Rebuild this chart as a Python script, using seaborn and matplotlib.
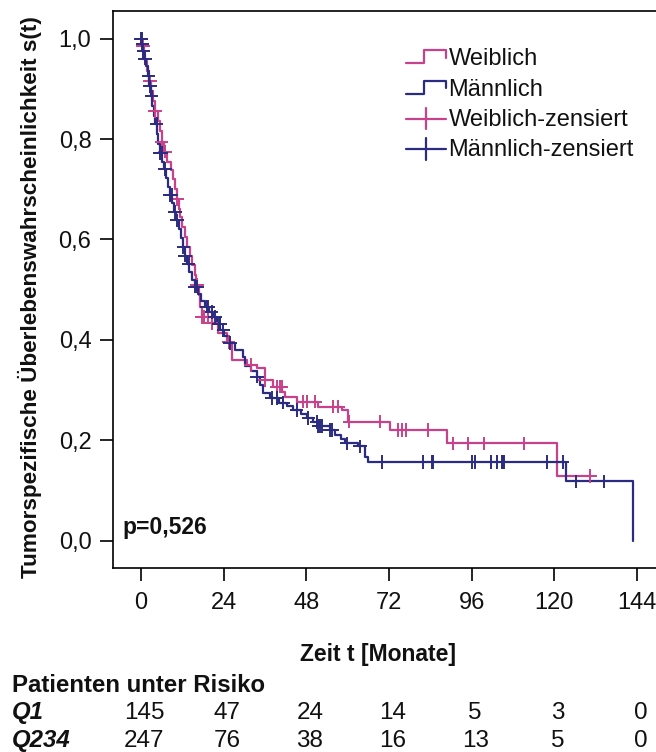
import numpy as np
import pandas as pd
import matplotlib
matplotlib.use("Agg")
import matplotlib.pyplot as plt
import matplotlib.transforms as mtransforms
import seaborn as sns
from matplotlib.lines import Line2D
from matplotlib.legend_handler import HandlerBase
from matplotlib.ticker import FuncFormatter

# ---------------- data ----------------
group_names = ["Weiblich", "Männlich"]
censor_names = ["Weiblich-zensiert", "Männlich-zensiert"]

# Weiblich: event times (months) and survival after each step
w_times = [0.4, 0.8, 1.3, 1.8, 2.4, 3.0, 3.5, 4.1, 4.8, 5.4, 6.0, 6.8, 7.6, 8.6,
           9.3, 9.8, 10.4, 10.9, 11.4, 12.0, 12.7, 13.4, 14.2, 14.8, 15.6, 16.1,
           16.7, 17.1, 17.6, 20.5, 22.4, 24.9, 26.3, 30.7, 33.6, 36.0, 38.4, 40.9,
           41.8, 45.2, 51.5, 58.3, 60.2, 72.3, 88.8, 120.7]
w_surv = [0.985, 0.970, 0.955, 0.935, 0.915, 0.895, 0.875, 0.855, 0.835, 0.815,
          0.795, 0.775, 0.755, 0.738, 0.720, 0.700, 0.680, 0.660, 0.645, 0.625,
          0.605, 0.585, 0.568, 0.550, 0.530, 0.510, 0.490, 0.465, 0.446, 0.433,
          0.413, 0.396, 0.360, 0.350, 0.343, 0.320, 0.307, 0.297, 0.287, 0.277,
          0.267, 0.260, 0.237, 0.220, 0.194, 0.129]
w_censored = [0.5, 0.7, 2.6, 4.1, 6.0, 7.0, 10.4, 16.2, 17.6, 18.2, 19.5, 20.5,
              25.4, 31.9, 36.0, 39.4, 40.4, 40.8, 46.9, 48.1, 50.5, 55.8, 57.3,
              60.5, 69.4, 74.7, 75.7, 76.9, 83.4, 90.6, 94.8, 99.5, 111.1, 130.4]

# Männlich
m_times = [0.3, 0.6, 1.0, 1.4, 1.9, 2.3, 2.8, 3.2, 3.7, 4.2, 4.6, 5.0, 5.5, 6.1,
           6.6, 7.2, 7.8, 8.4, 9.0, 9.7, 10.3, 10.9, 11.6, 12.2, 12.8, 13.4, 14.0,
           14.8, 15.7, 16.6, 17.5, 18.6, 19.8, 21.0, 22.0, 23.0, 24.2, 25.5, 27.3,
           29.5, 30.2, 32.0, 33.6, 34.6, 35.5, 37.5, 40.0, 42.5, 44.2, 46.5, 48.1,
           50.0, 51.5, 54.9, 56.3, 58.0, 59.2, 63.1, 65.0, 66.0, 123.4, 142.8]
m_surv = [0.990, 0.975, 0.960, 0.945, 0.925, 0.905, 0.885, 0.865, 0.845, 0.830,
          0.810, 0.790, 0.772, 0.755, 0.740, 0.722, 0.705, 0.688, 0.672, 0.655,
          0.638, 0.620, 0.602, 0.585, 0.568, 0.552, 0.536, 0.520, 0.506, 0.492,
          0.478, 0.466, 0.455, 0.445, 0.432, 0.420, 0.408, 0.394, 0.380, 0.365,
          0.348, 0.337, 0.327, 0.310, 0.295, 0.284, 0.275, 0.268, 0.260, 0.252,
          0.244, 0.236, 0.228, 0.220, 0.210, 0.202, 0.194, 0.188, 0.167, 0.157,
          0.118, 0.0]
m_censored = [0.0, 0.2, 0.4, 0.7, 1.2, 2.2, 2.6, 3.1, 4.5, 5.5, 6.0, 7.0, 8.4, 8.9,
              9.9, 10.4, 12.3, 12.8, 13.8, 15.7, 16.2, 19.1, 19.5, 20.5, 21.5, 22.5,
              22.9, 23.9, 25.8, 33.6, 37.9, 39.4, 41.3, 45.2, 48.6, 51.0, 51.5, 52.0,
              52.4, 54.9, 55.4, 59.7, 63.6, 70.0, 81.8, 84.5, 84.8, 96.0, 97.1,
              101.7, 103.3, 104.8, 105.2, 105.5, 118.0, 122.4, 126.4, 134.4]

x_ticks = [0, 24, 48, 72, 96, 120, 144]
y_ticks = [0.0, 0.2, 0.4, 0.6, 0.8, 1.0]
risk_labels = ["Q1", "Q234"]
risk_q1 = [145, 47, 24, 14, 5, 3, 0]
risk_q234 = [247, 76, 38, 16, 13, 5, 0]
p_text = "p=0,526"

colors = {"Weiblich": "#C8418A", "Männlich": "#2B2B82"}

# ---------------- build tables ----------------
def step_frame(name, times, surv, cens):
    t = [0.0] + list(times)
    s = [1.0] + list(surv)
    end = max(max(cens), t[-1])
    if end > t[-1]:
        t.append(end)
        s.append(s[-1])
    return pd.DataFrame({"t": t, "s": s, "group": name})

def censor_frame(name, steps, cens):
    ts = steps["t"].to_numpy()
    ss = steps["s"].to_numpy()
    idx = np.searchsorted(ts, np.array(cens), side="right") - 1
    return pd.DataFrame({"t": cens, "s": ss[idx], "group": name})

w_steps = step_frame("Weiblich", w_times, w_surv, w_censored)
m_steps = step_frame("Männlich", m_times, m_surv, m_censored)
steps = pd.concat([w_steps, m_steps], ignore_index=True)
cens = pd.concat([censor_frame("Weiblich", w_steps, w_censored),
                  censor_frame("Männlich", m_steps, m_censored)], ignore_index=True)

# ---------------- figure ----------------
sns.set_theme(style="ticks")
plt.rcParams['font.family'] = ['Liberation Sans', 'DejaVu Sans']

W, H = 656, 752
fig = plt.figure(figsize=(W / 100, H / 100), dpi=100)
ax = fig.add_axes([113 / W, 1 - 568 / H, (W - 113) / W, (568 - 11) / H])

lw = 1.6
sns.lineplot(data=steps, x="t", y="s", hue="group", palette=colors,
             estimator=None, sort=False, drawstyle="steps-post",
             linewidth=lw, legend=False, ax=ax)
sns.scatterplot(data=cens, x="t", y="s", hue="group", palette=colors,
                marker="+", s=95, linewidth=1.4, legend=False, ax=ax, zorder=3)

ax.set_xlim(-8.13, 149.5)
ax.set_ylim(-0.0544, 1.055)
ax.set_xticks(x_ticks)
ax.set_yticks(y_ticks)
ax.yaxis.set_major_formatter(FuncFormatter(lambda v, p: f"{v:.1f}".replace(".", ",")))
ax.tick_params(axis="both", labelsize=17, length=9.5, width=1.2, color="black",
               labelcolor="#111111", direction="out")
ax.tick_params(axis="y", pad=6)
ax.tick_params(axis="x", pad=8)
for side in ["left", "bottom", "top"]:
    ax.spines[side].set_linewidth(1.2)
    ax.spines[side].set_color("black")
ax.spines["right"].set_visible(False)
ax.set_xlabel("")
ax.set_ylabel("")

ax.text(0.0166, 0.0736, p_text, transform=ax.transAxes, fontsize=16.5,
        fontweight="bold", ha="left", va="center", color="#111111")

# legend with custom handles
class StepHandler(HandlerBase):
    def create_artists(self, legend, orig_handle, xdescent, ydescent, width,
                       height, fontsize, trans):
        xs = np.array([0, 0.45, 0.45, 1.0, 1.0]) * width - xdescent
        ys = np.array([0.1, 0.1, 0.9, 0.9, 0.45]) * height - ydescent
        return [Line2D(xs, ys, color=orig_handle.get_color(), lw=lw, transform=trans)]

class CrossHandler(HandlerBase):
    def create_artists(self, legend, orig_handle, xdescent, ydescent, width,
                       height, fontsize, trans):
        c = orig_handle.get_color()
        h = Line2D([-xdescent, width - xdescent], [0.45 * height - ydescent] * 2,
                   color=c, lw=lw, transform=trans)
        v = Line2D([0.5 * width - xdescent] * 2,
                   [-0.2 * height - ydescent, 1.1 * height - ydescent],
                   color=c, lw=lw, transform=trans)
        return [h, v]

handles = [Line2D([], [], color=colors[g]) for g in group_names] + \
          [Line2D([], [], color=colors[g]) for g in group_names]
labels = group_names + censor_names
hmap = {handles[0]: StepHandler(), handles[1]: StepHandler(),
        handles[2]: CrossHandler(), handles[3]: CrossHandler()}
fig.legend(handles, labels, handler_map=hmap, loc="upper left",
           bbox_to_anchor=(406 / W, 1 - 48 / H), bbox_transform=fig.transFigure,
           frameon=False, fontsize=17, handlelength=1.7, handletextpad=0.1,
           labelspacing=0.36, borderpad=0, borderaxespad=0, labelcolor="#111111")

# axis labels
fig.text(30 / W, 1 - 297 / H, "Tumorspezifische Überlebenswahrscheinlichkeit s(t)",
         rotation=90, ha="center", va="center", fontsize=16.2, fontweight="bold",
         color="#111111")
fig.text(378 / W, 1 - 654 / H, "Zeit t [Monate]", ha="center", va="center",
         fontsize=16.5, fontweight="bold", color="#111111")

# numbers at risk
fig.text(12 / W, 1 - 686 / H, "Patienten unter Risiko", ha="left", va="center",
         fontsize=17.3, fontweight="bold", color="#111111")
blend = mtransforms.blended_transform_factory(ax.transData, fig.transFigure)
for row_label, row_vals, ypx in [(risk_labels[0], risk_q1, 713),
                                 (risk_labels[1], risk_q234, 741)]:
    fig.text(12 / W, 1 - ypx / H, row_label, ha="left", va="center",
             fontsize=17.3, fontweight="bold", fontstyle="italic", color="#111111")
    for xv, val in zip(x_ticks, row_vals):
        ax.text(xv + 1.0, 1 - ypx / H, str(val), transform=blend, ha="center",
                va="center", fontsize=17.5, clip_on=False, color="#111111")

fig.savefig("out.png", dpi=100)
